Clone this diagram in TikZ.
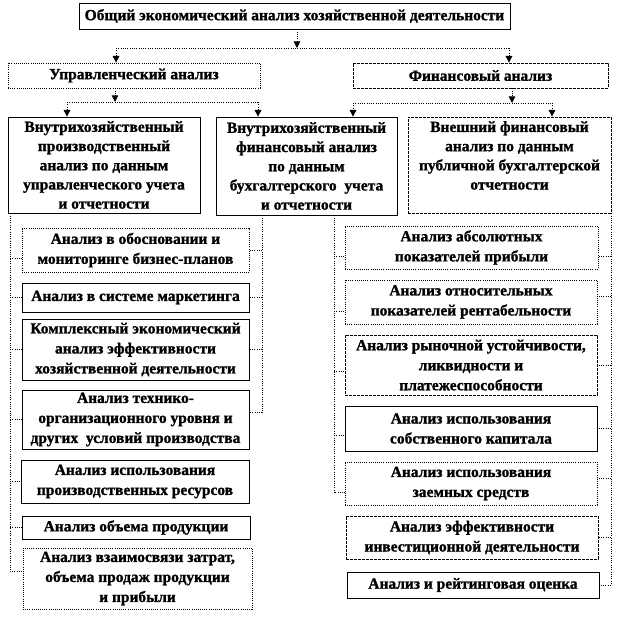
\documentclass[tikz,border=0pt]{standalone}
\usepackage{fontspec}
\setmainfont{Liberation Serif}[BoldFont={Liberation Serif Bold},BoldFeatures={FakeBold=1.2}]
\usetikzlibrary{arrows.meta}
\newcommand{\mybox}[7]{%
 \pgfmathsetmacro\cx{(#2+#4)/2}\pgfmathsetmacro\cy{(#3+#5)/2}%
 \pgfmathsetmacro\bw{(#4-#2)*0.75}\pgfmathsetmacro\bh{(#5-#3)*0.75}%
 \node[#6, minimum width=\bw pt, minimum height=\bh pt] (#1) at (\cx,\cy) {#7};}
\tikzset{
 bx/.style={inner sep=0pt, align=center, font=\bfseries\fontsize{11.6}{15}\selectfont, line width=0.6pt},
 solidbox/.style={bx, draw},
 dotbox/.style={bx, draw, densely dotted},
 dashbox/.style={bx, draw, dash pattern=on 2pt off 1pt},
 bigrow/.style={font=\bfseries\fontsize{11.6}{14.4}\selectfont},
 conn/.style={densely dotted, line width=0.7pt},
 arr/.style={-{Triangle[length=5pt,width=5pt]}},
}
\begin{document}
\begin{tikzpicture}[x=0.75pt,y=-0.75pt]
\useasboundingbox (0,0) rectangle (620,625);
% top levels
\mybox{top}{79}{3}{510}{29}{solidbox}{Общий экономический анализ хозяйственной деятельности}
\mybox{upr}{8}{63}{260}{88}{dotbox}{Управленческий анализ}
\mybox{fin}{353}{63}{608}{88}{dashbox}{Финансовый анализ}
\mybox{b1}{8}{117}{200}{213}{solidbox,bigrow}{Внутрихозяйственный\\производственный\\анализ по данным\\управленческого учета\\и отчетности}
\mybox{b2}{216}{117}{397}{215}{solidbox,bigrow}{Внутрихозяйственный\\финансовый анализ\\по данным\\бухгалтерского\ \ учета\\и отчетности}
\mybox{b3}{408}{117}{611}{213}{dashbox,bigrow}{Внешний финансовый\\анализ по данным\\публичной бухгалтерской\\отчетности\\\mbox{}}
% left column
\mybox{s1}{22}{228}{249}{272}{dotbox}{Анализ в обосновании и\\мониторинге бизнес-планов}
\mybox{s2}{22}{283}{249}{312}{solidbox}{Анализ в системе маркетинга}
\mybox{s3}{22}{319}{249}{380}{solidbox}{Комплексный экономический\\анализ эффективности\\хозяйственной деятельности}
\mybox{s4}{22}{390}{249}{449}{solidbox}{Анализ технико-\\организационного уровня и\\других\ \ условий производства}
\mybox{s5}{21}{460}{249}{503}{solidbox}{Анализ использования\\производственных ресурсов}
\mybox{s6}{22}{516}{250}{539}{solidbox}{Анализ объема продукции}
\mybox{s7}{23}{548}{252}{609}{dotbox}{Анализ взаимосвязи затрат,\\объема продаж продукции\\и прибыли}
% right column
\mybox{r1}{345}{226}{598}{269}{dotbox}{Анализ абсолютных\\показателей прибыли}
\mybox{r2}{345}{280}{597}{324}{dotbox}{Анализ относительных\\показателей рентабельности}
\mybox{r3}{345}{335}{597}{395}{dashbox}{Анализ рыночной устойчивости,\\ликвидности и\\платежеспособности}
\mybox{r4}{345}{406}{597}{451}{solidbox}{Анализ использования\\собственного капитала}
\mybox{r5}{345}{462}{597}{505}{dotbox}{Анализ использования\\заемных средств}
\mybox{r6}{346}{516}{598}{559}{dashbox}{Анализ эффективности\\инвестиционной деятельности}
\mybox{r7}{347}{572}{599}{598}{solidbox}{Анализ и рейтинговая оценка}
% connectors level 1
\coordinate (h0) at (297,48);
\coordinate (hL) at (116,48);
\coordinate (hR) at (509,48);
\draw[conn,arr] (top.south -| h0) -- (h0);
\draw[conn] (hL) -- (hR);
\draw[conn,arr] (hL) -- (hL |- upr.north);
\draw[conn,arr] (hR) -- (hR |- fin.north);
% connectors level 2 (upr)
\coordinate (u0) at (115,102);
\coordinate (uL) at (67,102);
\coordinate (uR) at (258,102);
\draw[conn,arr] (upr.south -| u0) -- (u0);
\draw[conn] (uL) -- (uR);
\draw[conn,arr] (uL) -- (uL |- b1.north);
\draw[conn,arr] (uR) -- (uR |- b2.north);
% connectors level 2 (fin)
\coordinate (f0) at (512,103);
\coordinate (fL) at (353,103);
\coordinate (fR) at (552,103);
\draw[conn,arr] (fin.south -| f0) -- (f0);
\draw[conn] (fL) -- (fR);
\draw[conn,arr] (fL) -- (fL |- b2.north);
\draw[conn,arr] (fR) -- (fR |- b3.north);
% left column bus from b1
\coordinate (lx) at (10,0);
\coordinate (s1L) at ([yshift=-6pt]s1.west);
\coordinate (s7L) at ([yshift=5pt]s7.west);
\draw[conn] (b1.south -| lx) |- (s7L);
\draw[conn] (lx |- s1L) -- (s1L);
\draw[conn] (lx |- s2.west) -- (s2.west);
\draw[conn] (lx |- s3.west) -- (s3.west);
\draw[conn] (lx |- s4.west) -- (s4.west);
\draw[conn] (lx |- s5.west) -- (s5.west);
\draw[conn] (lx |- s6.west) -- (s6.west);
% left column bus from b2
\coordinate (rx) at (262,0);
\coordinate (s4R) at ([yshift=5pt]s4.east);
\draw[conn] (b2.south -| rx) |- (s4R);
\draw[conn] (rx |- s1.east) -- (s1.east);
\draw[conn] (rx |- s2.east) -- (s2.east);
\draw[conn] (rx |- s3.east) -- (s3.east);
% right column bus from b2
\coordinate (mx) at (334,0);
\coordinate (r1L) at ([yshift=-7pt]r1.west);
\coordinate (r2L) at ([yshift=-7pt]r2.west);
\coordinate (r3L) at ([yshift=-5pt]r3.west);
\coordinate (r4L) at ([yshift=-5pt]r4.west);
\coordinate (r5L) at ([yshift=-7pt]r5.west);
\draw[conn] (b2.south -| mx) |- (r5L);
\draw[conn] (mx |- r1L) -- (r1L);
\draw[conn] (mx |- r2L) -- (r2L);
\draw[conn] (mx |- r3L) -- (r3L);
\draw[conn] (mx |- r4L) -- (r4L);
% right column bus from b3
\coordinate (fx) at (611,0);
\coordinate (r1R) at ([yshift=-7pt]r1.east);
\coordinate (r2R) at ([yshift=4pt]r2.east);
\coordinate (r5R) at ([yshift=4pt]r5.east);
\draw[conn] (b3.south -| fx) |- (r7.east);
\draw[conn] (fx |- r1R) -- (r1R);
\draw[conn] (fx |- r2R) -- (r2R);
\draw[conn] (fx |- r3.east) -- (r3.east);
\draw[conn] (fx |- r4.east) -- (r4.east);
\draw[conn] (fx |- r5R) -- (r5R);
\draw[conn] (fx |- r6.east) -- (r6.east);
\end{tikzpicture}
\end{document}
